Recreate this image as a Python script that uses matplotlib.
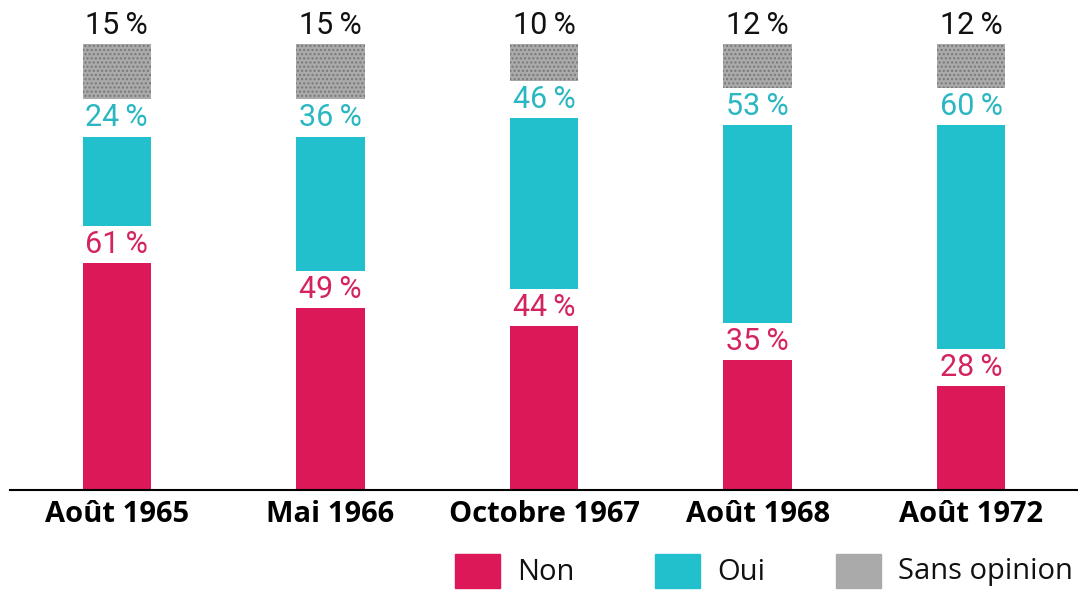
import numpy as np
import matplotlib.pyplot as plt
from matplotlib.patches import Rectangle

# données du sondage
dates = ['Août 1965', 'Mai 1966', 'Octobre 1967', 'Août 1968', 'Août 1972']
non = [61, 49, 44, 35, 28]
oui = [24, 36, 46, 53, 60]
sans_opinion = [15, 15, 10, 12, 12]

c_non = '#dc1858'
c_oui = '#22bfcd'
c_sans = '#aaaaaa'
gap = 10  # espace blanc entre segments (pour les étiquettes)

fig = plt.figure(figsize=(10.78, 5.91), dpi=100)
ax = fig.add_axes([10 / 1078, 1 - 490 / 591, 1 - 10 / 1078, 490 / 591])

x = np.arange(len(dates))
w = 0.32
bas_oui = np.array(non) + gap
bas_sans = bas_oui + np.array(oui) + gap

ax.bar(x, non, w, color=c_non)
ax.bar(x, oui, w, bottom=bas_oui, color=c_oui)
ax.bar(x, sans_opinion, w, bottom=bas_sans, color=c_sans,
       hatch='....', edgecolor='#777777', linewidth=0)

lab_font = dict(family=['Roboto', 'DejaVu Sans'], fontsize=22)
for i in range(len(dates)):
    ax.text(x[i], non[i] + gap / 2, f'{non[i]}\u202f%', ha='center', va='center',
            color='#d42460', **lab_font)
    ax.text(x[i], bas_oui[i] + oui[i] + gap / 2, f'{oui[i]}\u202f%', ha='center',
            va='center', color='#2bb7c2', **lab_font)
    ax.text(x[i], bas_sans[i] + sans_opinion[i] + gap / 2, f'{sans_opinion[i]}\u202f%',
            ha='center', va='center', color='#111111', **lab_font)

ax.set_xlim(-0.5, 4.5)
ax.set_ylim(0, 490 / 3.72)
ax.set_xticks(x)
ax.set_xticklabels(dates, fontsize=21, fontweight='bold', family='Open Sans')
ax.tick_params(axis='x', length=0, pad=7)
ax.set_yticks([])
for s in ['top', 'right', 'left']:
    ax.spines[s].set_visible(False)
ax.spines['bottom'].set_linewidth(1.5)

# légende
leg = [('Non', c_non, 455), ('Oui', c_oui, 655), ('Sans opinion', c_sans, 836)]
for nom, col, px in leg:
    fig.add_artist(Rectangle((px / 1078, 1 - 588 / 591), 45 / 1078, 34 / 591,
                             transform=fig.transFigure, color=col))
    fig.text((px + 62) / 1078, 1 - 572 / 591, nom, fontsize=21, family='Open Sans',
             va='center', ha='left', color='#111111')

fig.savefig('out.png', dpi=100)
